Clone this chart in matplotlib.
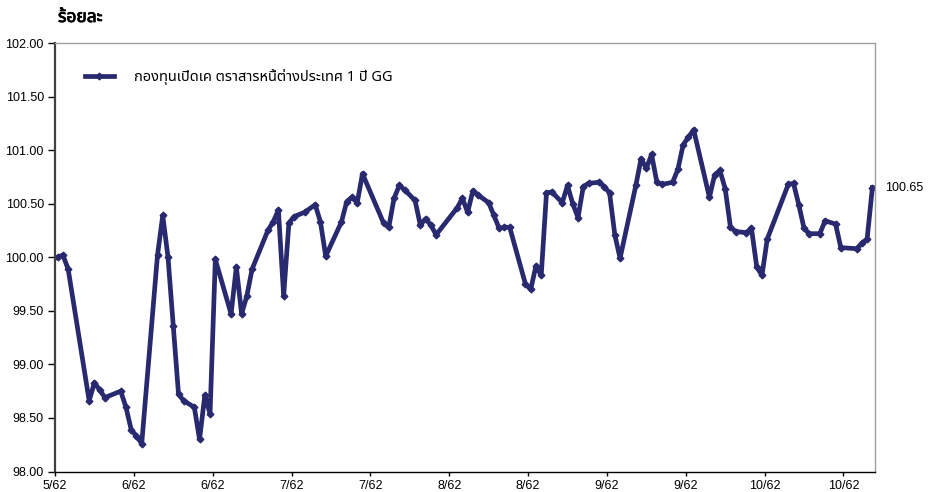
import datetime as dt
import matplotlib
matplotlib.use("Agg")
import matplotlib.pyplot as plt
import matplotlib.patheffects as pe
from matplotlib import font_manager
from matplotlib.ft2font import FT2Font

# fund NAV index (percent), day offsets counted from the first date
start_date = "2019-05-24"
day_idx = [0, 1, 2, 6, 7, 8, 9, 12, 13, 14, 15, 16, 19, 20, 21, 22, 23, 24,
           26, 27, 28, 29, 30, 33, 34, 35, 36, 37, 40, 41, 42, 43, 44, 45,
           47, 49, 50, 51, 54, 55, 56, 57, 58, 62, 63, 64, 65, 66, 68, 69,
           70, 71, 72, 76, 77, 78, 79, 80, 82, 83, 84, 85, 86, 89, 90, 91,
           92, 93, 94, 96, 97, 98, 99, 100, 101, 103, 104, 105, 106, 107,
           110, 111, 112, 113, 114, 115, 117, 118, 119, 120, 121, 124, 125,
           126, 127, 128, 129, 131, 132, 133, 134, 135, 139, 140, 141, 142,
           143, 145, 146, 148, 149, 152, 153, 154, 155]
nav = [100.00, 100.02, 99.89, 98.66, 98.83, 98.76, 98.69, 98.75, 98.60,
       98.39, 98.33, 98.26, 100.02, 100.39, 100.00, 99.36, 98.72, 98.66,
       98.60, 98.30, 98.71, 98.54, 99.98, 99.47, 99.91, 99.47, 99.64,
       99.89, 100.25, 100.33, 100.44, 99.64, 100.32, 100.38, 100.42,
       100.49, 100.33, 100.01, 100.33, 100.52, 100.56, 100.51, 100.78,
       100.32, 100.28, 100.55, 100.67, 100.63, 100.53, 100.30, 100.36,
       100.30, 100.21, 100.46, 100.55, 100.42, 100.62, 100.58, 100.51,
       100.39, 100.27, 100.28, 100.28, 99.75, 99.70, 99.92, 99.83, 100.60,
       100.61, 100.51, 100.67, 100.50, 100.37, 100.66, 100.69, 100.70,
       100.66, 100.60, 100.21, 99.99, 100.67, 100.92, 100.83, 100.96,
       100.70, 100.68, 100.70, 100.82, 101.05, 101.12, 101.19, 100.56,
       100.77, 100.81, 100.64, 100.28, 100.24, 100.23, 100.27, 99.91,
       99.83, 100.17, 100.68, 100.69, 100.49, 100.27, 100.22, 100.22,
       100.34, 100.31, 100.09, 100.08, 100.13, 100.17, 100.65]
series_name = "กองทุนเปิดเค ตราสารหนี้ต่างประเทศ 1 ปี GG"
y_title = "ร้อยละ"
last_label = "100.65"


def thai_family():
    found = []
    for f in font_manager.fontManager.ttflist:
        try:
            if 0x0E01 in FT2Font(f.fname).get_charmap():
                found.append(f.name)
        except Exception:
            pass
    for pref in ["Tahoma", "Noto Sans Thai", "Noto Sans Thai UI", "Loma",
                 "Garuda", "Sarabun", "Noto Serif Thai"]:
        if pref in found:
            return pref
    return found[0] if found else "DejaVu Sans"


thai = thai_family()
plt.rcParams["font.family"] = ["Liberation Sans", thai, "DejaVu Sans"]

line_col = "#28296f"
t0 = dt.datetime.strptime(start_date, "%Y-%m-%d")
xs = [t0 + dt.timedelta(days=d, hours=12) for d in day_idx]

fig = plt.figure(figsize=(9.34, 4.92), dpi=100)
ax = fig.add_axes([55 / 934, 1 - 471.5 / 492, 820 / 934, 428.5 / 492])

ax.plot(xs, nav, color=line_col, lw=3.4, marker="D", ms=3.4,
        label=series_name, solid_joinstyle="round")

ax.set_ylim(98, 102)
ax.set_yticks([98 + 0.5 * i for i in range(9)])
ax.set_yticklabels(["%.2f" % (98 + 0.5 * i) for i in range(9)])
ax.set_xlim(t0, t0 + dt.timedelta(days=156))
ticks = [t0 + dt.timedelta(days=15 * k) for k in range(11)]
ax.set_xticks(ticks)
ax.set_xticklabels(["%d/%02d" % (t.month, (t.year + 543) % 100) for t in ticks])

ax.tick_params(axis="both", labelsize=9, width=1, colors="black")
ax.tick_params(axis="y", length=5, pad=3)
ax.tick_params(axis="x", length=3, pad=3)
for s in ["top", "right"]:
    ax.spines[s].set_color("#a0a0a0")
    ax.spines[s].set_linewidth(1)
ax.spines["left"].set_color("#404040")
ax.spines["left"].set_linewidth(1.6)
ax.spines["bottom"].set_color("black")
ax.spines["bottom"].set_linewidth(1)

leg = ax.legend(loc="upper left", bbox_to_anchor=(0.02, 0.97), frameon=False,
                fontsize=10.5, handlelength=2.0, handletextpad=1.4)
for t in leg.get_texts():
    t.set_family([thai, "Liberation Sans"])

ax.annotate(last_label, xy=(xs[-1], nav[-1]), xytext=(9, 0),
            textcoords="offset points", va="center", ha="left", fontsize=9)

fig.text(58 / 934, 1 - 17 / 492, y_title, fontsize=12.5, fontweight="bold",
         va="center", ha="left", family=[thai, "Liberation Sans"],
         path_effects=[pe.withStroke(linewidth=0.6, foreground="black")])

fig.savefig("out.png", dpi=100)
